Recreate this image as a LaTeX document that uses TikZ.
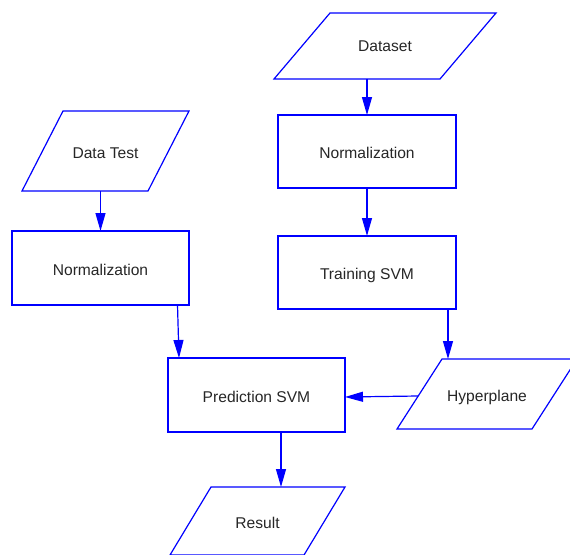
\documentclass[tikz,border=0pt]{standalone}
\usepackage{fontspec}
\setmainfont{Liberation Sans}
\usetikzlibrary{arrows.meta}
\begin{document}
\begin{tikzpicture}[x=1pt,y=-1pt,
  every node/.style={font=\fontsize{15.6}{18}\selectfont, text=black!85, text height=14pt, text depth=0pt},
  procbox/.style={draw=blue, line width=1.2pt, rectangle, inner sep=0pt, outer sep=0pt},
  iobox/.style={rectangle, inner sep=0pt, outer sep=0pt},
  edge line/.style={draw=blue, line width=1.2pt, line join=miter},
  arr/.style={draw=blue, line width=1.2pt, -{Triangle[length=18pt,width=10pt]}}]
\useasboundingbox (0,0) rectangle (570,554);
% parallelogram nodes (invisible boxes sized to the shape's extent)
\node[iobox, minimum width=222pt, minimum height=66pt] (ds) at (385,44.5) {Dataset};
\draw[edge line] ([yshift=-1.5pt]ds.south west) -- ([xshift=56pt,yshift=-1.5pt]ds.north west) -- ([yshift=-1.5pt]ds.north east) -- ([xshift=-56pt,yshift=-1.5pt]ds.south east) -- cycle;
\node[iobox, minimum width=167pt, minimum height=80pt] (dt) at (105.5,151) {Data Test};
\draw[edge line] (dt.south west) -- ([xshift=41pt]dt.north west) -- (dt.north east) -- ([xshift=-41pt]dt.south east) -- cycle;
\node[iobox, minimum width=180pt, minimum height=70pt] (hy) at (487,394) {Hyperplane};
\draw[edge line] (hy.south west) -- ([xshift=45pt]hy.north west) -- (hy.north east) -- ([xshift=-45pt]hy.south east) -- cycle;
\node[iobox, minimum width=175pt, minimum height=68pt] (rs) at (257.5,521) {Result};
\draw[edge line] (rs.south west) -- ([xshift=41pt]rs.north west) -- (rs.north east) -- ([xshift=-41pt]rs.south east) -- cycle;
% process boxes
\node[procbox, minimum width=178pt, minimum height=73pt] (n1) at (367,151.5) {Normalization};
\node[procbox, minimum width=178pt, minimum height=73pt] (tr) at (367,272.5) {Training SVM};
\node[procbox, minimum width=177pt, minimum height=74pt] (n2) at (100.5,268) {Normalization};
\node[procbox, minimum width=177pt, minimum height=74pt] (pr) at (256.5,395) {Prediction SVM};
% connectors
\draw[arr] ([yshift=-1.5pt]n1.north |- ds.south) -- (n1.north);
\draw[arr] (n1.south) -- (tr.north);
\draw[arr] (n2.north |- dt.south) -- (n2.north);
\draw[arr] ([xshift=77pt]n2.south) -- ([xshift=-77.5pt]pr.north);
\draw[arr] ([xshift=81pt]tr.south) -- ([xshift=81pt]tr.south |- hy.north);
\draw[arr] ([xshift=21pt,yshift=-2pt]hy.west) -- ([yshift=-2pt]pr.east);
\draw[arr] ([xshift=24.5pt]pr.south) -- ([xshift=24.5pt]pr.south |- rs.north);
\end{tikzpicture}
\end{document}
